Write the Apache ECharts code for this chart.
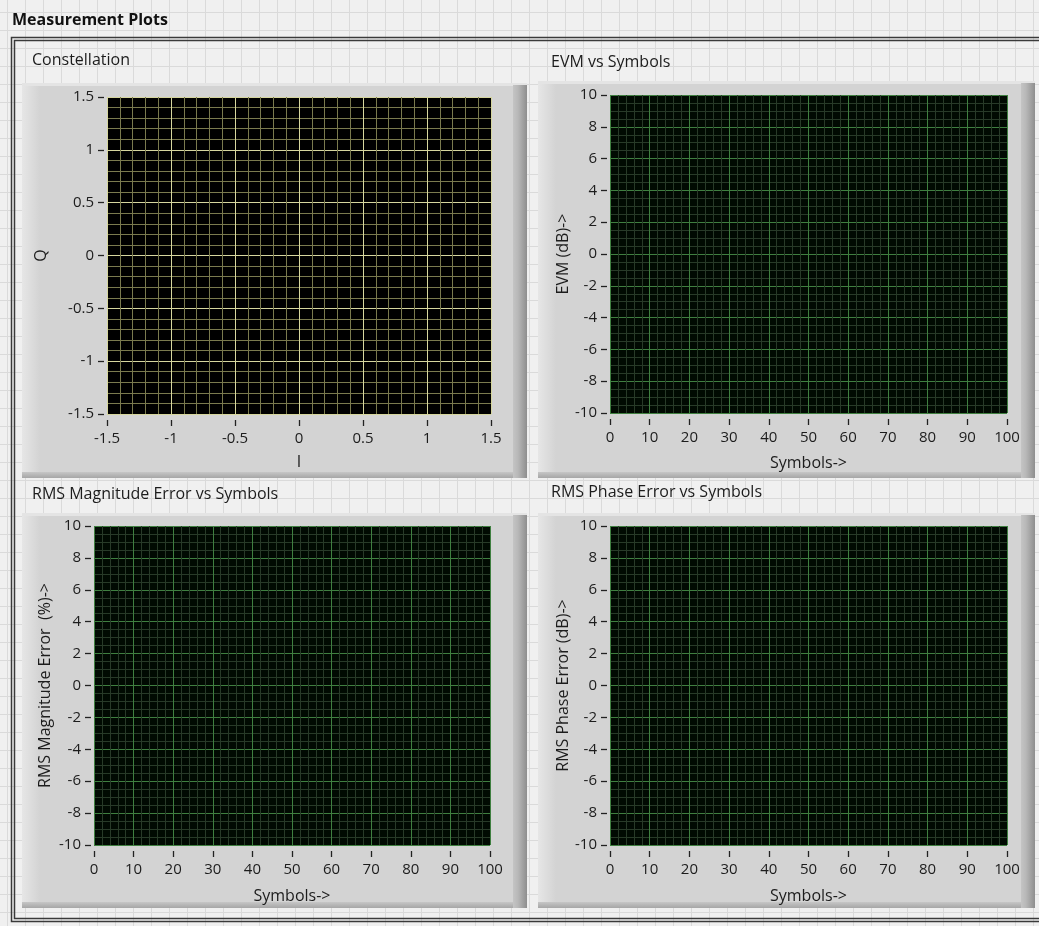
<!DOCTYPE html>
<html>
<head>
<meta charset="utf-8">
<script src="https://cdn.jsdelivr.net/npm/echarts@6/dist/echarts.min.js"></script>
<style>
  html, body { margin: 0; padding: 0; }
  body {
    width: 1039px; height: 926px; overflow: hidden;
    background-color: #f0f0f0;
    background-image:
      linear-gradient(#dadada 1px, transparent 1px),
      linear-gradient(90deg, #dadada 1px, transparent 1px);
    background-size: 18px 18px;
    background-position: 7px 12px;
  }
  #chart { width: 1039px; height: 926px; }
</style>
</head>
<body>
<div id="chart"></div>
<script>
// ---- chart content ----
const panelTitle = 'Measurement Plots';
const plotTitles = ['Constellation', 'EVM vs Symbols', 'RMS Magnitude Error vs Symbols', 'RMS Phase Error vs Symbols'];
const xNames = ['I', 'Symbols->', 'Symbols->', 'Symbols->'];
const yNames = ['Q', 'EVM (dB)->', 'RMS Magnitude Error  (%)->', 'RMS Phase Error (dB)->'];
const xMin = [-1.5, 0, 0, 0];
const xMax = [1.5, 100, 100, 100];
const xStep = [0.5, 10, 10, 10];
const yMin = [-1.5, -10, -10, -10];
const yMax = [1.5, 10, 10, 10];
const yStep = [0.5, 2, 2, 2];
const xMinorSplits = [5, 5, 5, 5];
const yMinorSplits = [5, 4, 4, 4];
// the graphs are empty in the reference
const constellationPoints = [];
const evmValues = [];
const rmsMagnitudeValues = [];
const rmsPhaseValues = [];
const seriesData = [constellationPoints, evmValues, rmsMagnitudeValues, rmsPhaseValues];

// ---- layout / style ----
const grids = [
  { left: 107, top: 97, width: 384, height: 317 },
  { left: 610, top: 95, width: 397, height: 318 },
  { left: 94, top: 526, width: 396, height: 319 },
  { left: 610, top: 526, width: 397, height: 319 }
];
const frames = [
  { x: 22, y: 83, w: 505, h: 395 },
  { x: 538, y: 81, w: 497, h: 397 },
  { x: 22, y: 513, w: 505, h: 395 },
  { x: 538, y: 513, w: 497, h: 395 }
];
const titlePos = [[32, 52], [551, 54], [32, 486], [551, 484]];
const plotBg = ['#000000', '#010a02', '#010a02', '#010a02'];
const majorColor = ['#d6d69e', '#3f7f40', '#3f7f40', '#3f7f40'];
const minorColor = ['#7a7a4e', '#283a28', '#283a28', '#283a28'];
const yNameGap = [55, 34, 38, 35];
const xNameGap = [34, 36, 37, 37];
const FONT = '"Open Sans", "Noto Sans", sans-serif';
const TXT = '#1c1c1c';

const chart = echarts.init(document.getElementById('chart'), null, { renderer: 'canvas' });

function frameShapes(f) {
  const G = echarts.graphic.LinearGradient;
  return [
    { type: 'rect', z: -5, shape: { x: f.x, y: f.y, width: f.w, height: f.h },
      style: { fill: '#d3d3d3' } },
    { type: 'rect', z: -4, shape: { x: f.x, y: f.y, width: 18, height: f.h },
      style: { fill: new G(0, 0, 1, 0, [{ offset: 0, color: '#e6e6e6' }, { offset: 1, color: '#d3d3d3' }]) } },
    { type: 'rect', z: -4, shape: { x: f.x, y: f.y, width: f.w, height: 3 },
      style: { fill: '#e4e4e4' } },
    { type: 'rect', z: -4, shape: { x: f.x + f.w - 14, y: f.y + 2, width: 14, height: f.h - 2 },
      style: { fill: new G(0, 0, 1, 0, [{ offset: 0, color: '#c4c4c4' }, { offset: 0.35, color: '#b8b8b8' }, { offset: 1, color: '#8e8e8e' }]) } },
    { type: 'rect', z: -4, shape: { x: f.x, y: f.y + f.h - 6, width: f.w - 14, height: 6 },
      style: { fill: new G(0, 0, 0, 1, [{ offset: 0, color: '#c6c6c6' }, { offset: 1, color: '#a6a6a6' }]) } }
  ];
}

const graphics = [];
// cluster double border
graphics.push({ type: 'rect', z: -6, shape: { x: 11.5, y: 37.5, width: 1040, height: 884 },
  style: { fill: null, stroke: '#3a3a3a', lineWidth: 1.5 } });
graphics.push({ type: 'rect', z: -6, shape: { x: 14.5, y: 40.5, width: 1040, height: 878 },
  style: { fill: null, stroke: '#3a3a3a', lineWidth: 1.5 } });
frames.forEach(f => frameShapes(f).forEach(s => graphics.push(s)));
graphics.push({ type: 'text', z: 5, x: 12, y: 12,
  style: { text: panelTitle, font: 'bold 16px ' + FONT, fill: '#111' } });

const option = {
  animation: false,
  backgroundColor: 'transparent',
  graphic: { elements: graphics },
  title: plotTitles.map((t, i) => ({
    text: t, left: titlePos[i][0], top: titlePos[i][1], padding: 0,
    textStyle: { fontFamily: FONT, fontSize: 16, fontWeight: 'normal', color: TXT }
  })),
  grid: grids.map((g, i) => Object.assign({}, g, {
    show: true, backgroundColor: plotBg[i], borderWidth: 0, containLabel: false
  })),
  xAxis: grids.map((g, i) => ({
    type: 'value', gridIndex: i, position: 'bottom',
    min: xMin[i], max: xMax[i], interval: xStep[i],
    name: xNames[i], nameLocation: 'middle', nameGap: xNameGap[i],
    nameTextStyle: { fontFamily: FONT, fontSize: 16, color: TXT },
    offset: 6,
    axisLine: { show: false, onZero: false },
    axisTick: { show: true, length: 6, lineStyle: { color: '#222', width: 1.3 } },
    axisLabel: { margin: 11, fontFamily: FONT, fontSize: 15, color: TXT, showMinLabel: true, showMaxLabel: true },
    splitLine: { show: true, lineStyle: { color: majorColor[i], width: 1 } },
    minorTick: { show: false, splitNumber: xMinorSplits[i] },
    minorSplitLine: { show: true, lineStyle: { color: minorColor[i], width: 1 } }
  })),
  yAxis: grids.map((g, i) => ({
    type: 'value', gridIndex: i, position: 'left',
    min: yMin[i], max: yMax[i], interval: yStep[i],
    name: yNames[i], nameLocation: 'middle', nameGap: yNameGap[i],
    nameTextStyle: { fontFamily: FONT, fontSize: 16, color: TXT },
    offset: 3,
    axisLine: { show: false, onZero: false },
    axisTick: { show: true, length: 6, lineStyle: { color: '#222', width: 1.3 } },
    axisLabel: { margin: 10, fontFamily: FONT, fontSize: 15, color: TXT, showMinLabel: true, showMaxLabel: true },
    splitLine: { show: true, lineStyle: { color: majorColor[i], width: 1 } },
    minorTick: { show: false, splitNumber: yMinorSplits[i] },
    minorSplitLine: { show: true, lineStyle: { color: minorColor[i], width: 1 } }
  })),
  series: seriesData.map((d, i) => ({
    type: i === 0 ? 'scatter' : 'line', xAxisIndex: i, yAxisIndex: i,
    data: d, symbolSize: 3, itemStyle: { color: '#ffffff' }, lineStyle: { color: '#ffffff' }
  }))
};
chart.setOption(option);
</script>
</body>
</html>
